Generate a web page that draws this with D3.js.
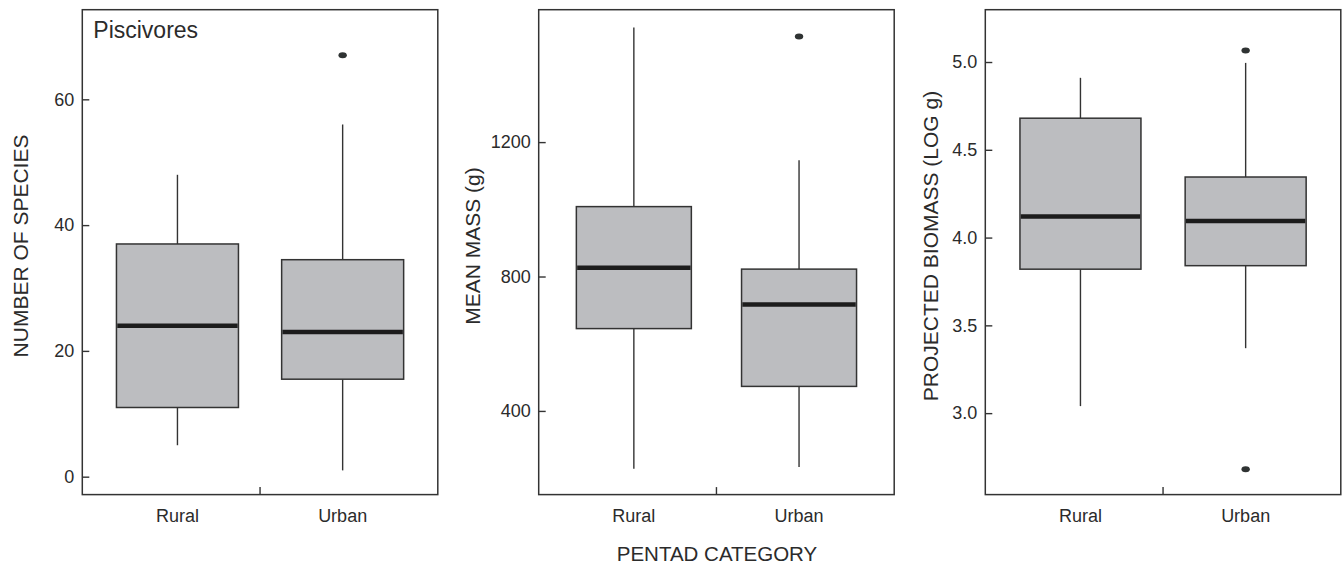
<!DOCTYPE html>
<html>
<head>
<meta charset="utf-8">
<script src="https://cdn.jsdelivr.net/npm/d3@7"></script>
<style>
  html, body { margin: 0; padding: 0; background: #fff; }
  svg { display: block; }
  text { font-family: "Liberation Sans", Arial, sans-serif; fill: #2b2b2b; }
</style>
</head>
<body>
<svg id="chart" width="1343" height="564"></svg>
<script>
// ---------------- data ----------------
const categories = ["Rural", "Urban"];

// box stats: [whisker low, Q1, median, Q3, whisker high]
const speciesRural = [5, 11, 24, 37, 48];
const speciesUrban = [1, 15.5, 23, 34.5, 56];
const speciesOutliers = [[], [67]];

const massRural = [228, 645, 826, 1008, 1541];
const massUrban = [233, 473, 717, 822, 1146];
const massOutliers = [[], [1514]];

const biomassRural = [3.04, 3.82, 4.12, 4.68, 4.91];
const biomassUrban = [3.37, 3.84, 4.095, 4.345, 4.995];
const biomassOutliers = [[], [5.065, 2.68]];

const speciesTicks = [0, 20, 40, 60];
const massTicks = [400, 800, 1200];
const biomassTicks = [3.0, 3.5, 4.0, 4.5, 5.0];

const panelLabel = "Piscivores";
const xTitle = "PENTAD CATEGORY";

// ---------------- layout ----------------
const plotTop = 9.7, plotBottom = 494.6, pw = 355.5;
const panels = [
  { left: 82.3,  domain: [-2.85, 74.25], ticks: speciesTicks, fmt: d3.format("d"),
    stats: [speciesRural, speciesUrban], outliers: speciesOutliers,
    title: "NUMBER OF SPECIES", titleOff: 54.5, boxW: 122 },
  { left: 538.7, domain: [151, 1594], ticks: massTicks, fmt: d3.format("d"),
    stats: [massRural, massUrban], outliers: massOutliers,
    title: "MEAN MASS (g)", titleOff: 58.5, boxW: 115 },
  { left: 985.3, domain: [2.536, 5.298], ticks: biomassTicks, fmt: d3.format(".1f"),
    stats: [biomassRural, biomassUrban], outliers: biomassOutliers,
    title: "PROJECTED BIOMASS (LOG g)", titleOff: 47.5, boxW: 121 }
];

const svg = d3.select("#chart");
const ink = "#333";

panels.forEach((p, pi) => {
  const g = svg.append("g");
  const y = d3.scaleLinear().domain(p.domain).range([plotBottom, plotTop]);
  const x = d3.scalePoint().domain(categories).range([p.left, p.left + pw]).padding(0.576);

  categories.forEach((c, i) => {
    const s = p.stats[i];
    const cx = x(c);
    g.append("line").attr("x1", cx).attr("x2", cx).attr("y1", y(s[0])).attr("y2", y(s[1]))
      .attr("stroke", ink).attr("stroke-width", 1.4);
    g.append("line").attr("x1", cx).attr("x2", cx).attr("y1", y(s[3])).attr("y2", y(s[4]))
      .attr("stroke", ink).attr("stroke-width", 1.4);
    g.append("rect").attr("x", cx - p.boxW / 2).attr("width", p.boxW)
      .attr("y", y(s[3])).attr("height", y(s[1]) - y(s[3]))
      .attr("fill", "#bcbdc0").attr("stroke", ink).attr("stroke-width", 1.5);
    g.append("line").attr("x1", cx - p.boxW / 2 + 0.8).attr("x2", cx + p.boxW / 2 - 0.8)
      .attr("y1", y(s[2])).attr("y2", y(s[2]))
      .attr("stroke", "#1c1c1c").attr("stroke-width", 4.5);
    p.outliers[i].forEach(v => {
      g.append("ellipse").attr("cx", cx).attr("cy", y(v)).attr("rx", 4.2).attr("ry", 3)
        .attr("fill", "#2f3333");
    });
  });

  g.append("rect").attr("x", p.left).attr("y", plotTop).attr("width", pw).attr("height", plotBottom - plotTop)
    .attr("fill", "none").attr("stroke", ink).attr("stroke-width", 1.5);

  const ya = d3.axisLeft(y).tickValues(p.ticks).tickFormat(p.fmt).tickSizeInner(-7).tickSizeOuter(0).tickPadding(8);
  const yg = g.append("g").attr("transform", `translate(${p.left},0)`).call(ya);
  yg.select(".domain").remove();
  yg.selectAll(".tick line").attr("stroke", ink).attr("stroke-width", 1.4);
  yg.selectAll(".tick text").style("font-size", "18px").style("font-family", '"Liberation Sans", Arial, sans-serif').attr("fill", "#2b2b2b");

  const mid = (x(categories[0]) + x(categories[1])) / 2;
  g.append("line").attr("x1", mid).attr("x2", mid).attr("y1", plotBottom).attr("y2", plotBottom - 7.5)
    .attr("stroke", ink).attr("stroke-width", 1.4);

  categories.forEach(c => {
    g.append("text").attr("x", x(c)).attr("y", 522).attr("text-anchor", "middle")
      .style("font-size", "18px").text(c);
  });

  const tx = p.left - p.titleOff, ty = 246;
  g.append("text").attr("transform", `translate(${tx},${ty}) rotate(-90)`)
    .attr("text-anchor", "middle").style("font-size", "21px").text(p.title);
});

svg.append("text").attr("x", 93.3).attr("y", 38.3).style("font-size", "23px").text(panelLabel);

svg.append("text").attr("x", 717).attr("y", 560.5).attr("text-anchor", "middle")
  .style("font-size", "20.5px").text(xTitle);
</script>
</body>
</html>
